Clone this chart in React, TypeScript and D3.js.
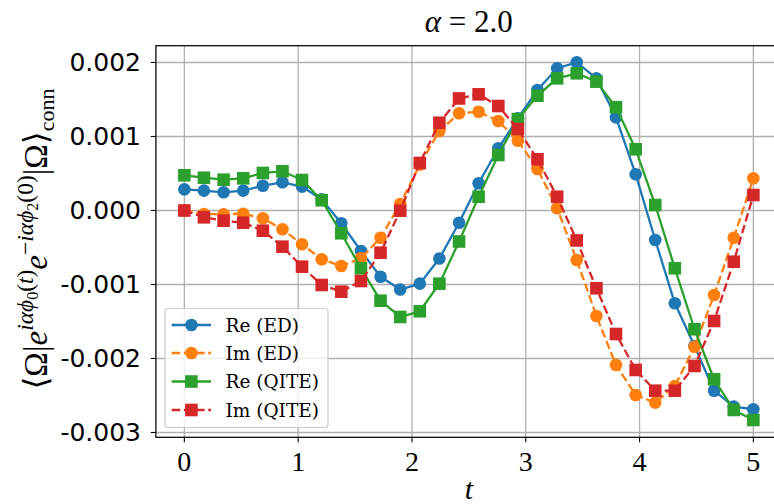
import React from 'react';
import * as d3 from 'd3';

const tValues = [0, 0.172, 0.345, 0.517, 0.69, 0.862, 1.034, 1.207, 1.379, 1.552, 1.724, 1.897, 2.069, 2.241, 2.414, 2.586, 2.759, 2.931, 3.103, 3.276, 3.448, 3.621, 3.793, 3.966, 4.138, 4.31, 4.483, 4.655, 4.828, 5.0];

const reED = [0.000286, 0.000268, 0.000246, 0.000268, 0.000335, 0.000381, 0.000322, 0.000150, -0.000173, -0.000547, -0.000895, -0.001068, -0.000988, -0.000649, -0.000165, 0.000368, 0.000841, 0.001246, 0.001628, 0.001922, 0.002003, 0.001786, 0.001259, 0.000489, -0.000399, -0.001254, -0.001831, -0.002435, -0.002651, -0.002686];
const imED = [0.0, -0.000047, -0.000051, -0.000043, -0.000105, -0.000254, -0.000457, -0.000659, -0.000750, -0.000646, -0.000368, 0.000088, 0.000620, 0.001074, 0.001314, 0.001335, 0.001209, 0.000943, 0.000561, 0.000030, -0.000669, -0.001426, -0.002088, -0.002493, -0.002597, -0.002372, -0.001841, -0.001142, -0.000368, 0.000435];
const reQITE = [0.000476, 0.000443, 0.000416, 0.000435, 0.000507, 0.000530, 0.000412, 0.000138, -0.000308, -0.000781, -0.001219, -0.001439, -0.001362, -0.000989, -0.000419, 0.000186, 0.000750, 0.001236, 0.001551, 0.001786, 0.001854, 0.001741, 0.001395, 0.000827, 0.000074, -0.000781, -0.001605, -0.002281, -0.002696, -0.002831];
const imQITE = [0.0, -0.000092, -0.000138, -0.000165, -0.000273, -0.000489, -0.000759, -0.001007, -0.001097, -0.000953, -0.000570, -0.000003, 0.000642, 0.001186, 0.001514, 0.001570, 0.001412, 0.001101, 0.000692, 0.000186, -0.000405, -0.001051, -0.001669, -0.002155, -0.002435, -0.002435, -0.002101, -0.001493, -0.000692, 0.000209];

const xTicks = [0, 1, 2, 3, 4, 5];
const xTickLabels = ['0', '1', '2', '3', '4', '5'];
const yTicks = [0.002, 0.001, 0, -0.001, -0.002, -0.003];
const yTickLabels = ['0.002', '0.001', '0.000', '-0.001', '-0.002', '-0.003'];

const seriesNames = ['Re (ED)', 'Im (ED)', 'Re (QITE)', 'Im (QITE)'];
const seriesValues = [reED, imED, reQITE, imQITE];
const seriesColors = ['#1f77b4', '#ff7f0e', '#2ca02c', '#d62728'];
const seriesDashed = [false, true, false, true];
const seriesMarker = ['circle', 'circle', 'square', 'square'];

const W = 774, H = 504;
const L = 155.9, R = 781.8, T = 45.7, B = 437.3;

export default function App() {
  const x = d3.scaleLinear().domain([-0.25, 5.25]).range([L, R]);
  const y = d3.scaleLinear().domain([-0.003065, 0.002227]).range([B, T]);
  const line = d3.line<[number, number]>().x(d => x(d[0])).y(d => y(d[1]));
  const serif = "'Liberation Serif', 'DejaVu Serif', serif";
  const dvSerif = "'DejaVu Serif', serif";
  const sans = "'DejaVu Sans', sans-serif";
  const lw = 2.3;
  const mr = 6.3;

  const marker = (kind: string, cx: number, cy: number, color: string, key: any) =>
    kind === 'circle'
      ? <circle key={key} cx={cx} cy={cy} r={mr} fill={color} />
      : <rect key={key} x={cx - mr} y={cy - mr} width={2 * mr} height={2 * mr} fill={color} />;

  const legendY = [325, 353, 381.5, 410];

  return (
    <svg width={W} height={H} style={{ position: 'absolute', left: 0, top: 0, background: '#fff' }}>
      <defs>
        <clipPath id="plotclip">
          <rect x={L} y={T} width={R - L} height={B - T} />
        </clipPath>
      </defs>
      <rect x={0} y={0} width={W} height={H} fill="#fff" />
      {/* grid */}
      <g stroke="#b0b0b0" strokeWidth={1.3}>
        {xTicks.map(t => <line key={'gx' + t} x1={x(t)} x2={x(t)} y1={T} y2={B} />)}
        {yTicks.map(t => <line key={'gy' + t} x1={L} x2={R} y1={y(t)} y2={y(t)} />)}
      </g>
      {/* series */}
      <g clipPath="url(#plotclip)">
        {seriesValues.map((vals, si) => {
          const pts: [number, number][] = vals.map((v, i) => [tValues[i], v]);
          return (
            <g key={'s' + si}>
              <path d={line(pts) || ''} fill="none" stroke={seriesColors[si]} strokeWidth={lw}
                strokeDasharray={seriesDashed[si] ? '8.5,3.7' : undefined} strokeLinejoin="round" />
              {pts.map((p, i) => marker(seriesMarker[si], x(p[0]), y(p[1]), seriesColors[si], i))}
            </g>
          );
        })}
      </g>
      {/* spines */}
      <g stroke="#000" strokeWidth={1.25} fill="none">
        <rect x={L} y={T} width={R - L} height={B - T} />
      </g>
      {/* ticks */}
      <g stroke="#000" strokeWidth={1.1}>
        {xTicks.map(t => <line key={'tx' + t} x1={x(t)} x2={x(t)} y1={B} y2={B + 5} />)}
        {yTicks.map(t => <line key={'ty' + t} x1={L} x2={L - 5} y1={y(t)} y2={y(t)} />)}
      </g>
      {xTicks.map((t, i) => (
        <text key={'xl' + t} x={x(t)} y={471} textAnchor="middle" fontFamily={serif} fontSize={28} fill="#000">{xTickLabels[i]}</text>
      ))}
      {yTicks.map((t, i) => (
        <text key={'yl' + t} x={141} y={y(t)} dy="0.36em" textAnchor="end" fontFamily={sans} fontSize={25} fill="#000">{yTickLabels[i]}</text>
      ))}
      {/* title */}
      <text x={(L + R) / 2} y={32} textAnchor="middle" fontFamily={serif} fontSize={31} fill="#000">
        <tspan fontStyle="italic">α</tspan>
        <tspan> = 2.0</tspan>
      </text>
      {/* x label */}
      <text x={(L + R) / 2} y={499} textAnchor="middle" fontFamily={serif} fontStyle="italic" fontSize={30} fill="#000">t</text>
      {/* y label */}
      <text transform={`translate(47, 239) rotate(-90)`} textAnchor="middle" fontFamily={serif} fontSize={33} fill="#000">
        <tspan>⟨Ω|</tspan>
        <tspan fontStyle="italic">e</tspan>
        <tspan fontStyle="italic" fontSize={23.5} dy={-14}>iαϕ</tspan>
        <tspan fontSize={16} dy={5}>0</tspan>
        <tspan fontSize={23.5} dy={-5}>(</tspan>
        <tspan fontSize={23.5} fontStyle="italic">t</tspan>
        <tspan fontSize={23.5}>)</tspan>
        <tspan fontStyle="italic" dy={14}>e</tspan>
        <tspan fontSize={23.5} dy={-14}>−</tspan>
        <tspan fontStyle="italic" fontSize={23.5}>iαϕ</tspan>
        <tspan fontSize={16} dy={5}>2</tspan>
        <tspan fontSize={23.5} dy={-5}>(0)</tspan>
        <tspan dy={14}>|Ω⟩</tspan>
        <tspan fontSize={22} dy={7}>conn</tspan>
      </text>
      {/* legend */}
      <rect x={165} y={308.5} width={163} height={119} rx={3} fill="#fff" fillOpacity={0.8} stroke="#cccccc" strokeWidth={1.2} />
      {seriesNames.map((name, si) => (
        <g key={'lg' + si}>
          <line x1={171.7} x2={211} y1={legendY[si]} y2={legendY[si]} stroke={seriesColors[si]} strokeWidth={lw}
            strokeDasharray={seriesDashed[si] ? '8.5,3.7' : undefined} />
          {marker(seriesMarker[si], 191.4, legendY[si], seriesColors[si], 'm')}
          <text x={225.5} y={legendY[si]} dy="0.36em" fontFamily={dvSerif} fontSize={18.5} fill="#000">{name}</text>
        </g>
      ))}
    </svg>
  );
}
